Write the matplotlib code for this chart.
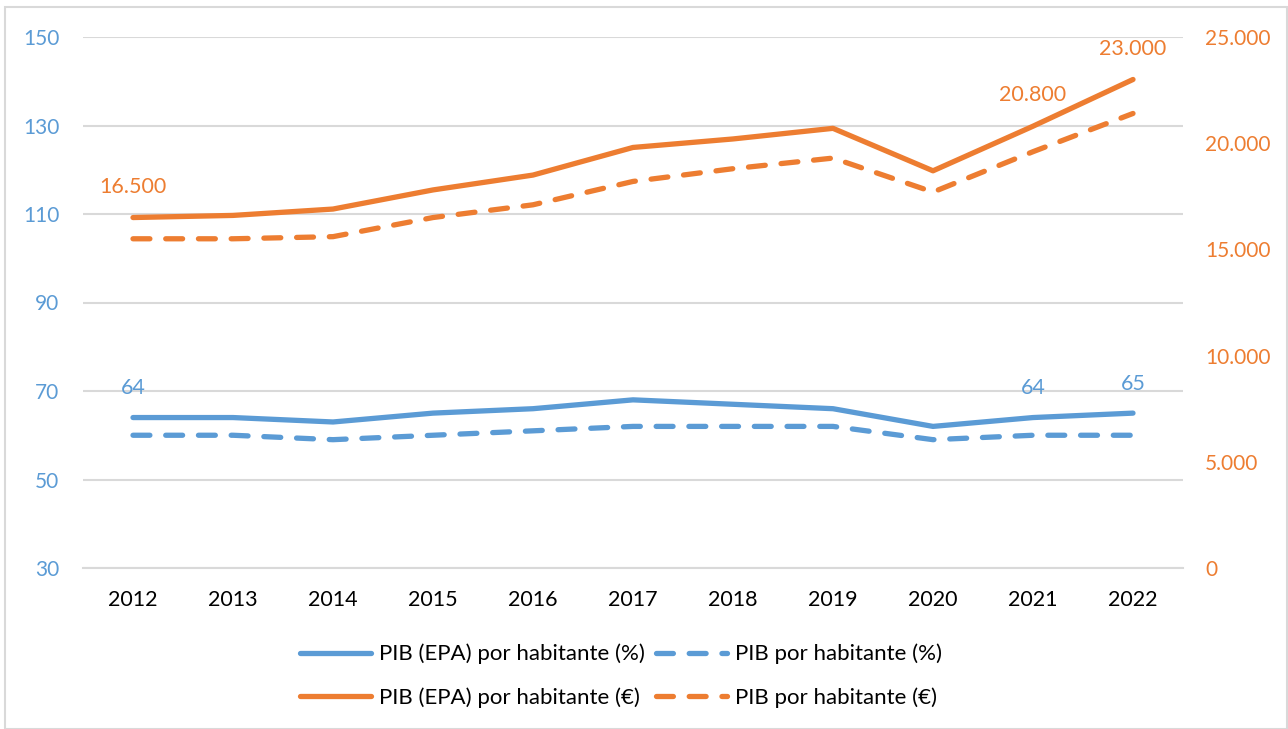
import matplotlib
matplotlib.use("Agg")
import matplotlib.pyplot as plt
from matplotlib.ticker import FuncFormatter, FixedLocator
from matplotlib.patches import Rectangle

plt.rcParams['font.family'] = ['Lato', 'DejaVu Sans']

years = [2012, 2013, 2014, 2015, 2016, 2017, 2018, 2019, 2020, 2021, 2022]
pib_epa_pct = [64, 64, 63, 65, 66, 68, 67, 66, 62, 64, 65]
pib_pct = [60, 60, 59, 60, 61, 62, 62, 62, 59, 60, 60]
pib_epa_eur = [16500, 16600, 16900, 17800, 18500, 19800, 20200, 20700, 18700, 20800, 23000]
pib_eur = [15500, 15500, 15600, 16500, 17100, 18200, 18800, 19300, 17700, 19600, 21400]

left_ticks = [30, 50, 70, 90, 110, 130, 150]
right_ticks = [0, 5000, 10000, 15000, 20000, 25000]

labels_eur = {2012: "16.500", 2021: "20.800", 2022: "23.000"}
labels_pct = {2012: "64", 2021: "64", 2022: "65"}

BLUE = "#5B9BD5"
ORANGE = "#ED7D31"
GRID = "#D9D9D9"

fig = plt.figure(figsize=(12.88, 7.29), dpi=100)
fig.patches.append(Rectangle((0.004, 0.0), 0.995, 0.99, transform=fig.transFigure,
                             fill=False, edgecolor=GRID, linewidth=1.5, zorder=0))

ax = fig.add_axes([83/1288, 1 - 568/729, 1100/1288, 531/729])
ax2 = ax.twinx()

lw = 3.8
dash = (3.2, 3.0)

ax.set_ylim(30, 150)
ax.set_xlim(2011.5, 2022.5)
ax2.set_ylim(0, 25000)
ax.yaxis.set_major_locator(FixedLocator(left_ticks))
ax2.yaxis.set_major_locator(FixedLocator(right_ticks))
ax.set_xticks(years)
ax.set_xticklabels([str(y) for y in years])
ax2.yaxis.set_major_formatter(FuncFormatter(lambda v, p: f"{int(v):,}".replace(",", ".")))

ax.grid(axis='y', color=GRID, linewidth=1.5)
ax.set_axisbelow(True)
for a in (ax, ax2):
    for s in a.spines.values():
        s.set_visible(False)
ax.spines['bottom'].set_visible(True)
ax.spines['bottom'].set_color(GRID)
ax.spines['bottom'].set_linewidth(1.5)

ax.tick_params(axis='y', length=0, pad=17, labelsize=15, labelcolor=BLUE)
ax2.tick_params(axis='y', length=0, pad=16, labelsize=15, labelcolor=ORANGE)
ax.tick_params(axis='x', length=0, pad=16, labelsize=15.5, labelcolor="#000000")

h1, = ax.plot(years, pib_epa_pct, color=BLUE, lw=lw, solid_capstyle='round', solid_joinstyle='round',
              label="PIB (EPA) por habitante (%)")
h2, = ax.plot(years, pib_pct, color=BLUE, lw=lw, dashes=dash, dash_capstyle='round',
              label="PIB por habitante (%)")
h3, = ax2.plot(years, pib_epa_eur, color=ORANGE, lw=lw, solid_capstyle='round', solid_joinstyle='round',
               label="PIB (EPA) por habitante (€)")
h4, = ax2.plot(years, pib_eur, color=ORANGE, lw=lw, dashes=dash, dash_capstyle='round',
               label="PIB por habitante (€)")

for i, y in enumerate(years):
    if y in labels_eur:
        ax2.annotate(labels_eur[y], (y, pib_epa_eur[i]), xytext=(0, 15), textcoords='offset points',
                     ha='center', va='bottom', color=ORANGE, fontsize=15.5)
    if y in labels_pct:
        ax.annotate(labels_pct[y], (y, pib_epa_pct[i]), xytext=(0, 14), textcoords='offset points',
                    ha='center', va='bottom', color=BLUE, fontsize=15.5)

leg = fig.legend([h1, h3, h2, h4],
                 [h1.get_label(), h3.get_label(), h2.get_label(), h4.get_label()],
                 ncol=2, loc='center', bbox_to_anchor=(621/1288, 1 - 676/729),
                 frameon=False, fontsize=16, handlelength=3.2, handletextpad=0.36,
                 columnspacing=0.5, labelspacing=1.05)

fig.savefig("out.png", dpi=100)
